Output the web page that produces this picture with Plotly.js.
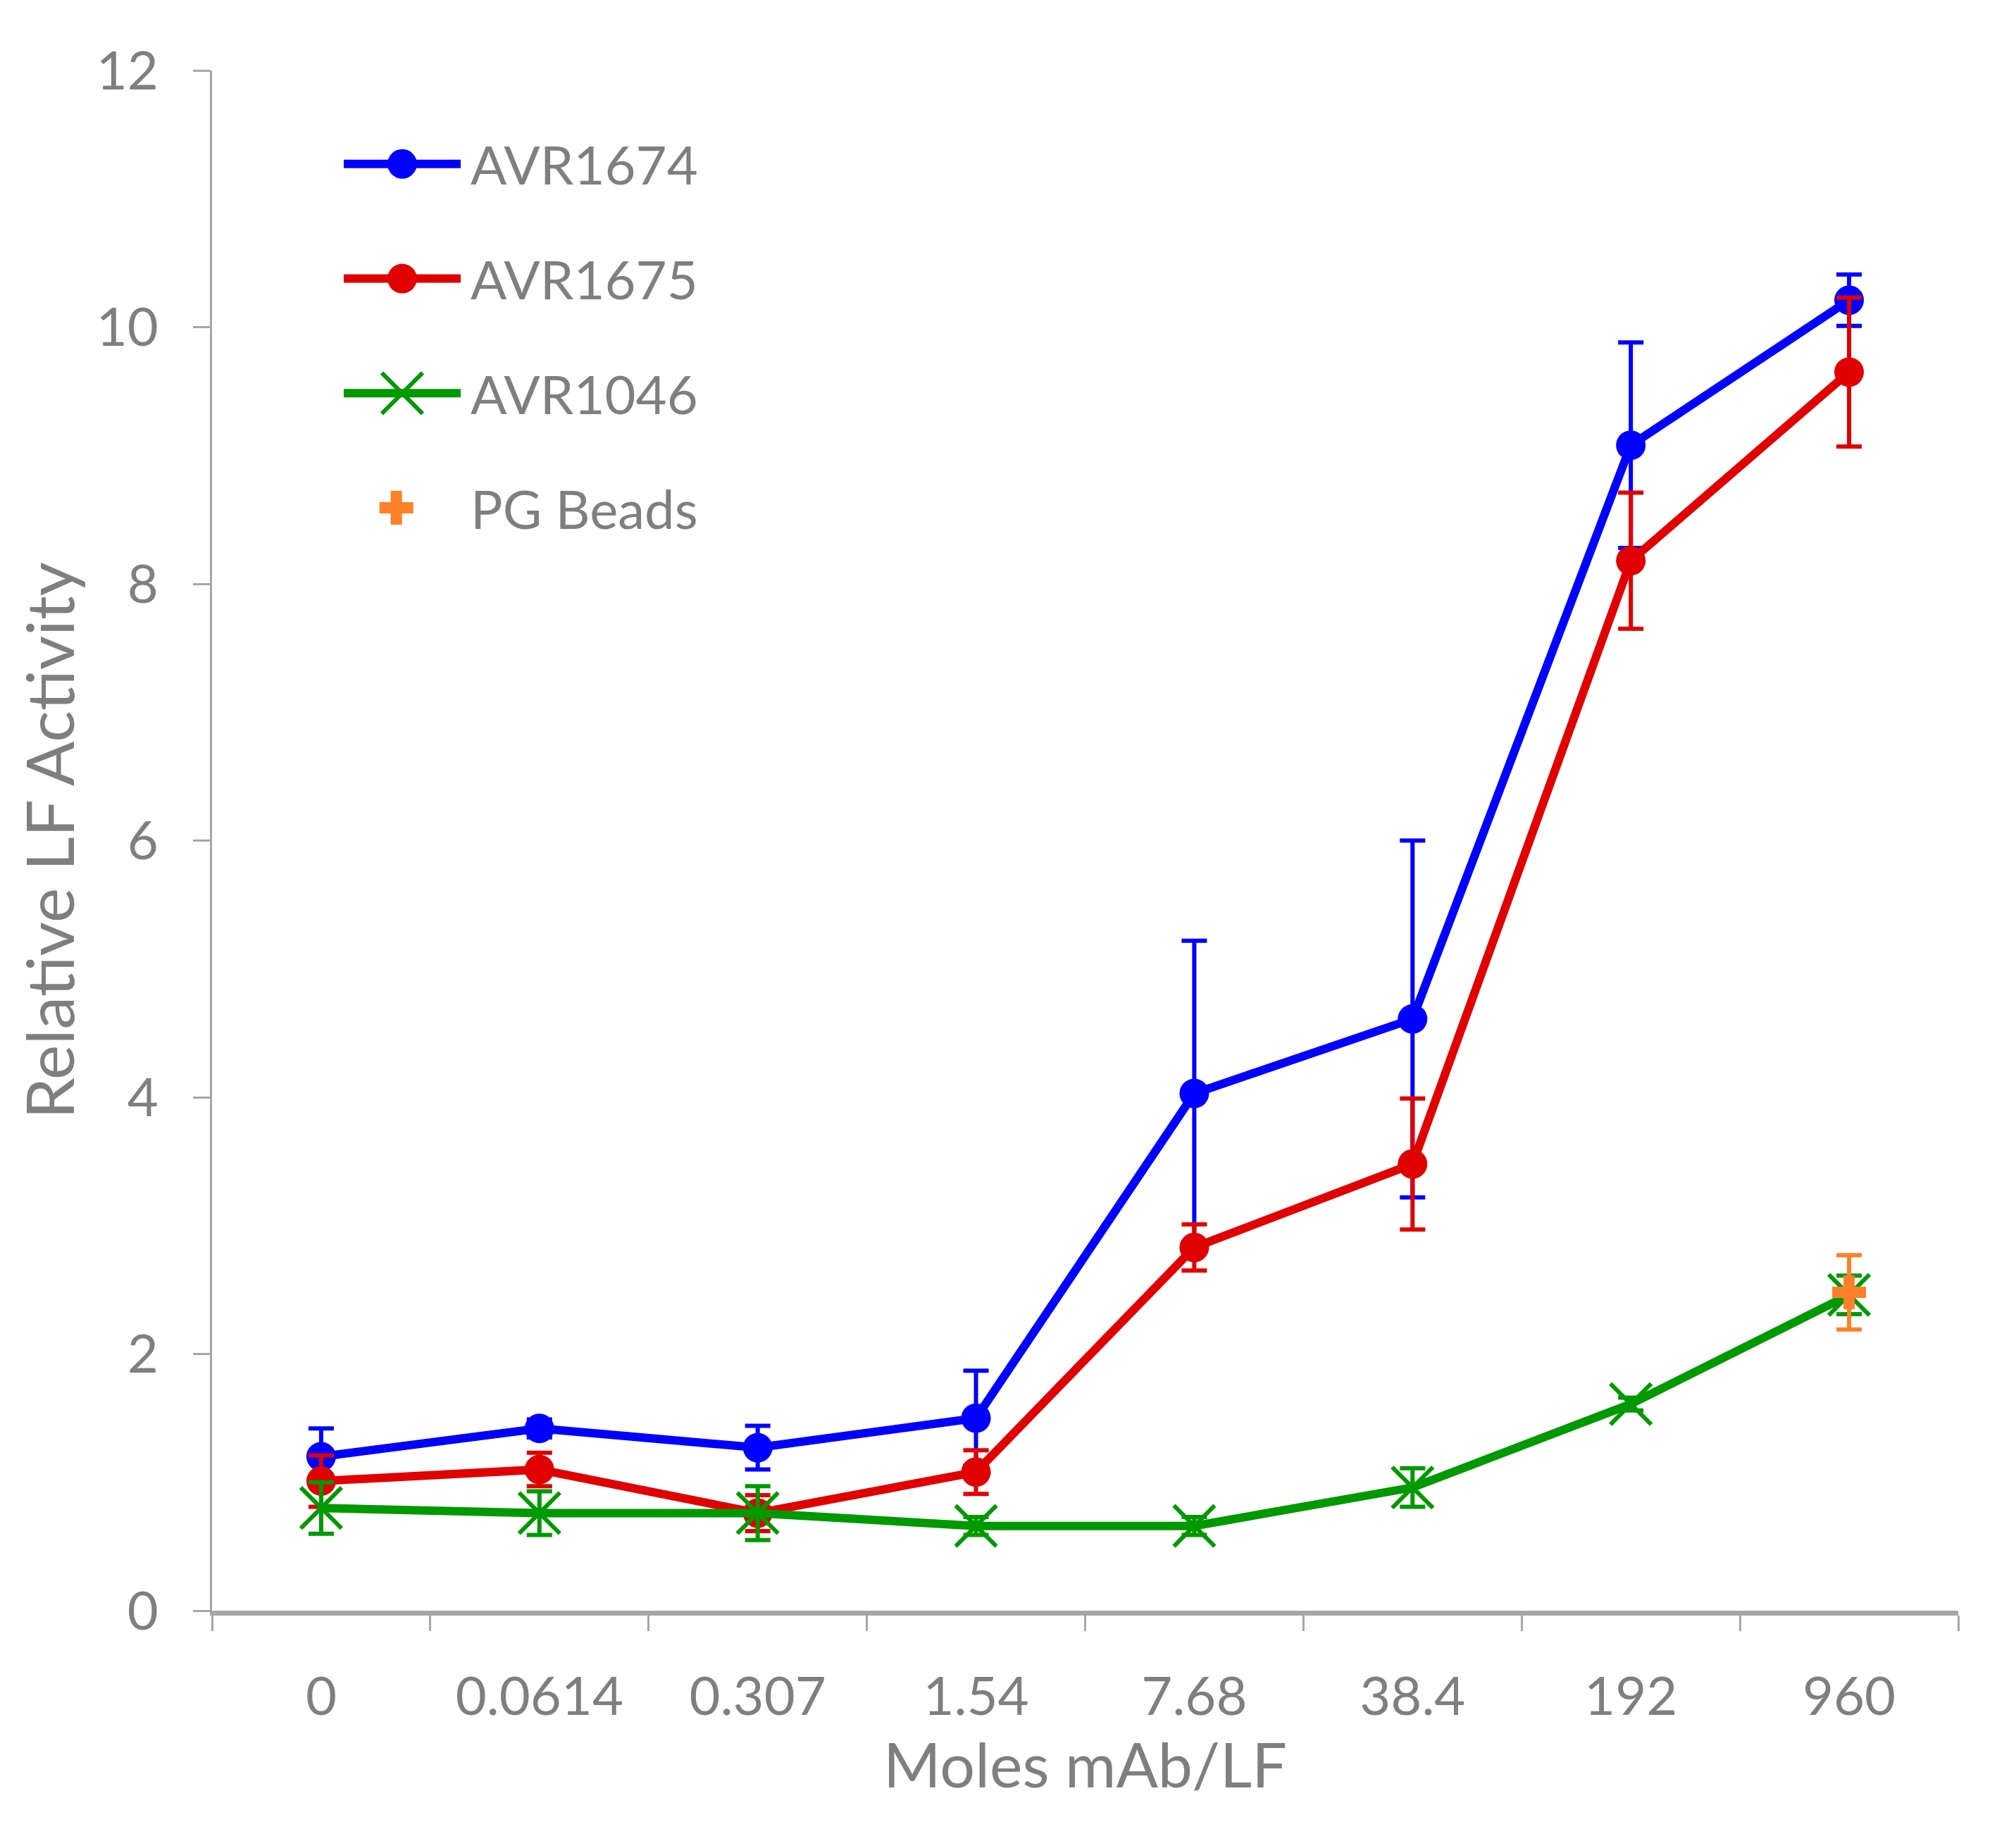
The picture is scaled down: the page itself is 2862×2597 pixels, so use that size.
<!DOCTYPE html>
<html>
<head>
<meta charset="utf-8">
<script src="https://cdn.plot.ly/plotly-3.0.1.min.js"></script>
<style>html,body{margin:0;padding:0;background:#fff}</style>
</head>
<body>
<div id="chart" style="width:2862px;height:2597px"></div>
<script>
// Moles mAb/LF (category axis)
var doses = ['0', '0.0614', '0.307', '1.54', '7.68', '38.4', '192', '960'];

var avr1674 = [1.20, 1.42, 1.27, 1.50, 4.03, 4.61, 9.08, 10.21];
var avr1674Err = [0.22, 0.07, 0.17, 0.37, 1.19, 1.39, 0.80, 0.20];

var avr1675 = [1.01, 1.10, 0.76, 1.08, 2.83, 3.48, 8.18, 9.65];
var avr1675Err = [0.20, 0.13, 0.14, 0.17, 0.18, 0.51, 0.53, 0.58];

var avr1046 = [0.80, 0.76, 0.76, 0.66, 0.66, 0.96, 1.61, 2.46];
var avr1046Err = [0.20, 0.17, 0.21, 0.07, 0.07, 0.15, 0.05, 0.15];

var pgDose = ['960'];
var pgBeads = [2.48];
var pgBeadsErr = [0.29];

var gray = '#7f7f7f';
var axisGray = '#a6a6a6';
var font = 'Lato, "Open Sans", sans-serif';

// styles
var series = [
    {name: 'AVR1674', y: avr1674, err: avr1674Err, color: 'rgb(0, 0, 255)',
     marker: {symbol: 'circle', size: 42}},
    {name: 'AVR1675', y: avr1675, err: avr1675Err, color: 'rgb(224, 0, 0)',
     marker: {symbol: 'circle', size: 42}},
    {name: 'AVR1046', y: avr1046, err: avr1046Err, color: 'rgb(0, 153, 0)',
     marker: {symbol: 'x-thin', size: 58, lineWidth: 6}},
];
var pgColor = 'rgb(255, 128, 40)';
var pgMarker = {symbol: 'cross', size: 40, color: pgColor};

function markerOf(s) {
    return {symbol: s.marker.symbol, size: s.marker.size, color: s.color, opacity: 1,
            line: {color: s.color, width: s.marker.lineWidth || 0}};
}

var data = [];

series.forEach(function (s) {
    data.push({
        x: doses,
        y: s.y,
        type: 'scatter',
        mode: 'lines+markers',
        name: s.name,
        showlegend: false,
        line: {color: s.color, width: 12},
        marker: markerOf(s),
        error_y: {type: 'data', array: s.err, visible: true,
                  color: s.color, thickness: 6, width: 18},
    });
});

data.push({
    x: pgDose,
    y: pgBeads,
    type: 'scatter',
    mode: 'markers',
    name: 'PG Beads',
    showlegend: false,
    marker: pgMarker,
    error_y: {type: 'data', array: pgBeadsErr, visible: true,
              color: pgColor, thickness: 6, width: 18},
});

// hand made legend in its own little subplot, so the samples look like Excel's
var legendNames = ['AVR1674', 'AVR1675', 'AVR1046', 'PG Beads'];
var annotations = [];

legendNames.forEach(function (name, i) {
    var row = legendNames.length - 0.5 - i;
    var s = series[i];
    if (s) {
        data.push({
            x: [0, 1], y: [row, row],
            xaxis: 'x2', yaxis: 'y2', type: 'scatter', mode: 'lines',
            showlegend: false, hoverinfo: 'skip',
            line: {color: s.color, width: 12},
        });
        data.push({
            x: [0.5], y: [row],
            xaxis: 'x2', yaxis: 'y2', type: 'scatter', mode: 'markers',
            showlegend: false, hoverinfo: 'skip',
            marker: markerOf(s),
        });
    } else {
        data.push({
            x: [0.45], y: [row],
            xaxis: 'x2', yaxis: 'y2', type: 'scatter', mode: 'markers',
            showlegend: false, hoverinfo: 'skip',
            marker: pgMarker,
        });
    }
    annotations.push({
        xref: 'x2', yref: 'y2', x: 1, y: row, xanchor: 'left', yanchor: 'middle',
        xshift: 12, showarrow: false, text: name,
        font: {family: font, size: 76, color: gray},
    });
});

var layout = {
    width: 2862,
    height: 2597,
    margin: {l: 301, r: 82, t: 100, b: 310},
    paper_bgcolor: '#ffffff',
    plot_bgcolor: '#ffffff',
    font: {family: font, color: gray},
    showlegend: false,
    xaxis: {
        type: 'category',
        categoryarray: doses,
        range: [-0.5, 7.5],
        tickson: 'boundaries',
        ticks: 'outside', ticklen: 22, tickwidth: 3, tickcolor: axisGray,
        showline: true, linecolor: axisGray, linewidth: 7,
        showgrid: false, zeroline: false,
        tickfont: {family: font, size: 76, color: gray},
        ticklabelstandoff: 50,
        title: {text: 'Moles mAb/LF', font: {family: font, size: 88, color: gray}, standoff: 22},
    },
    yaxis: {
        range: [0, 12],
        dtick: 2,
        ticks: 'outside', ticklen: 24, tickwidth: 3, tickcolor: axisGray,
        showline: true, linecolor: axisGray, linewidth: 3,
        showgrid: false, zeroline: false,
        tickfont: {family: font, size: 76, color: gray},
        ticklabelstandoff: 34,
        title: {text: 'Relative LF Activity', font: {family: font, size: 94, color: gray}, standoff: 0},
    },
    xaxis2: {domain: [0.0754, 0.1424], range: [0, 1], visible: false, anchor: 'y2', fixedrange: true},
    yaxis2: {domain: [0.6788, 0.9765], range: [0, 4], visible: false, anchor: 'x2', fixedrange: true},
    annotations: annotations,
};

Plotly.newPlot('chart', data, layout, {staticPlot: true});
</script>
</body>
</html>
